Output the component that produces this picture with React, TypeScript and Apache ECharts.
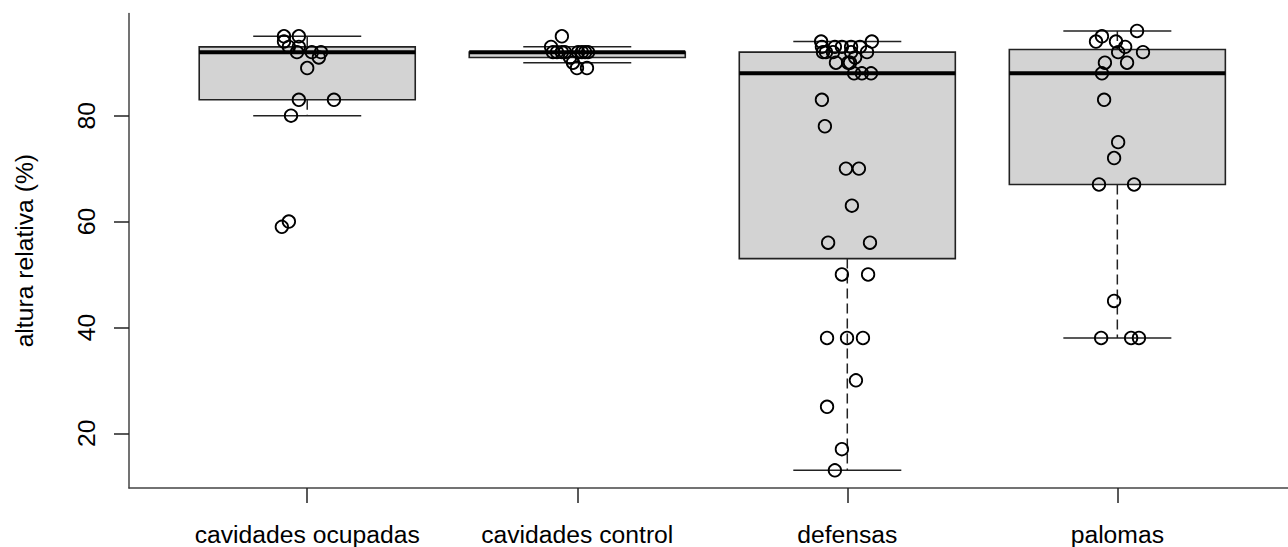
import React, { useEffect, useRef } from "react";
import * as echarts from "echarts";

const categories = ["cavidades ocupadas", "cavidades control", "defensas", "palomas"];
const yTicks = [20, 40, 60, 80];

const ocupadasValues = [95, 95, 94, 93, 93, 92, 92, 92, 91, 89, 83, 83, 80, 60, 59];
const ocupadasJitter = [-0.086, -0.031, -0.086, -0.068, -0.031, -0.038, 0.017, 0.051, 0.043, 0.0, -0.031, 0.099, -0.06, -0.068, -0.094];

const controlValues = [95, 93, 92, 92, 92, 92, 92, 92, 92, 92, 91, 90, 89, 89];
const controlJitter = [-0.057, -0.097, -0.09, -0.075, -0.057, -0.046, 0.003, 0.017, 0.029, 0.04, -0.027, -0.016, -0.001, 0.036];

const defensasValues = [94, 94, 93, 93, 93, 93, 93, 92, 92, 92, 92, 92, 91, 90, 90, 90, 88, 88, 88, 83, 78, 70, 70, 63, 56, 56, 50, 50, 38, 38, 38, 30, 25, 17, 13];
const defensasJitter = [-0.097, 0.091, -0.094, -0.046, 0.014, 0.047, -0.02, -0.09, -0.053, 0.014, 0.073, -0.079, 0.029, -0.042, 0.01, 0.003, 0.025, 0.054, 0.088, -0.094, -0.083, -0.005, 0.043, 0.017, -0.071, 0.084, -0.02, 0.077, -0.075, -0.001, 0.058, 0.032, -0.075, -0.02, -0.046];

const palomasValues = [96, 95, 94, 94, 93, 92, 92, 90, 90, 88, 83, 75, 72, 67, 67, 45, 38, 38, 38];
const palomasJitter = [0.073, -0.057, -0.079, -0.005, 0.029, 0.003, 0.095, -0.046, 0.036, -0.057, -0.049, 0.003, -0.012, -0.068, 0.062, -0.012, -0.06, 0.051, 0.08];

const groupValues = [ocupadasValues, controlValues, defensasValues, palomasValues];
const groupJitter = [ocupadasJitter, controlJitter, defensasJitter, palomasJitter];

const BOX_WIDTH = 0.8;

function fivenum(xs: number[]): number[] {
  const x = [...xs].sort((a, b) => a - b);
  const n = x.length;
  const n4 = Math.floor((n + 3) / 2) / 2;
  const d = [1, n4, (n + 1) / 2, n + 1 - n4, n];
  return d.map((di) => 0.5 * (x[Math.floor(di) - 1] + x[Math.ceil(di) - 1]));
}

function boxStats(xs: number[]) {
  const [, q1, med, q3] = fivenum(xs);
  const iqr = q3 - q1;
  const lf = q1 - 1.5 * iqr;
  const uf = q3 + 1.5 * iqr;
  const inside = xs.filter((v) => v >= lf && v <= uf);
  return [Math.min(...inside), q1, med, q3, Math.max(...inside)];
}

const FONT = "'Liberation Sans', Arial, Helvetica, sans-serif";

export default function App() {
  const ref = useRef<HTMLDivElement>(null);
  useEffect(() => {
    if (!ref.current) return;
    const chart = echarts.init(ref.current, undefined, { renderer: "svg" });
    const boxData = groupValues.map((vals, i) => [i + 1, ...boxStats(vals)]);
    const pointData: number[][] = [];
    groupValues.forEach((vals, i) => {
      vals.forEach((v, j) => pointData.push([i + 1 + groupJitter[i][j], v]));
    });
    const lineCol = "#222";
    chart.setOption({
      animation: false,
      grid: { left: 129, right: 0, top: 13.4, bottom: 59.1, containLabel: false },
      xAxis: {
        type: "value",
        min: 0.34,
        max: 4.632,
        splitLine: { show: false },
        axisLine: { show: true, lineStyle: { color: "#444", width: 1.5 } },
        axisTick: { show: true, customValues: [1, 2, 3, 4], length: 15, lineStyle: { color: "#222", width: 1.5 } },
        axisLabel: {
          customValues: [1, 2, 3, 4],
          formatter: (v: number) => categories[Math.round(v) - 1] ?? "",
          fontSize: 24.7,
          fontFamily: FONT,
          color: "#000",
          margin: 34,
        },
      },
      yAxis: {
        type: "value",
        min: 9.68,
        max: 99.32,
        splitLine: { show: false },
        axisLine: { show: true, lineStyle: { color: "#444", width: 1.5 } },
        axisTick: { show: true, customValues: yTicks, length: 15, lineStyle: { color: "#222", width: 1.5 } },
        axisLabel: {
          customValues: yTicks,
          rotate: 90,
          fontSize: 24.7,
          fontFamily: FONT,
          color: "#000",
          margin: 30,
        },
        name: "altura relativa (%)",
        nameLocation: "middle",
        nameGap: 92,
        nameTextStyle: { fontSize: 24.7, fontFamily: FONT, color: "#000" },
      },
      series: [
        {
          type: "custom",
          silent: true,
          data: boxData,
          encode: { x: 0, y: [1, 2, 3, 4, 5] },
          renderItem: (params: any, api: any) => {
            const xi = api.value(0);
            const lo = api.value(1);
            const q1 = api.value(2);
            const med = api.value(3);
            const q3 = api.value(4);
            const hi = api.value(5);
            const half = api.size([BOX_WIDTH, 0])[0] / 2;
            const staple = half / 2;
            const cx = api.coord([xi, med])[0];
            const yLo = api.coord([xi, lo])[1];
            const yQ1 = api.coord([xi, q1])[1];
            const yMed = api.coord([xi, med])[1];
            const yQ3 = api.coord([xi, q3])[1];
            const yHi = api.coord([xi, hi])[1];
            const dashed = { stroke: lineCol, lineWidth: 1.5, lineDash: [10, 5] };
            const solid = { stroke: lineCol, lineWidth: 1.5 };
            return {
              type: "group",
              children: [
                { type: "line", shape: { x1: cx, y1: yHi, x2: cx, y2: yQ3 }, style: dashed },
                { type: "line", shape: { x1: cx, y1: yQ1, x2: cx, y2: yLo }, style: dashed },
                { type: "line", shape: { x1: cx - staple, y1: yHi, x2: cx + staple, y2: yHi }, style: solid },
                { type: "line", shape: { x1: cx - staple, y1: yLo, x2: cx + staple, y2: yLo }, style: solid },
                {
                  type: "rect",
                  shape: { x: cx - half, y: yQ3, width: 2 * half, height: yQ1 - yQ3 },
                  style: { fill: "#d3d3d3", stroke: lineCol, lineWidth: 1.6 },
                },
                { type: "line", shape: { x1: cx - half, y1: yMed, x2: cx + half, y2: yMed }, style: { stroke: "#000", lineWidth: 4 } },
              ],
            };
          },
          z: 2,
        },
        {
          type: "scatter",
          silent: true,
          data: pointData,
          symbol: "circle",
          symbolSize: 12.5,
          itemStyle: { color: "rgba(0,0,0,0)", borderColor: "#000", borderWidth: 1.8, opacity: 1 },
          z: 3,
        },
      ],
    });
    return () => chart.dispose();
  }, []);
  return <div ref={ref} style={{ position: "absolute", left: 0, top: 0, width: 1288, height: 547 }} />;
}
